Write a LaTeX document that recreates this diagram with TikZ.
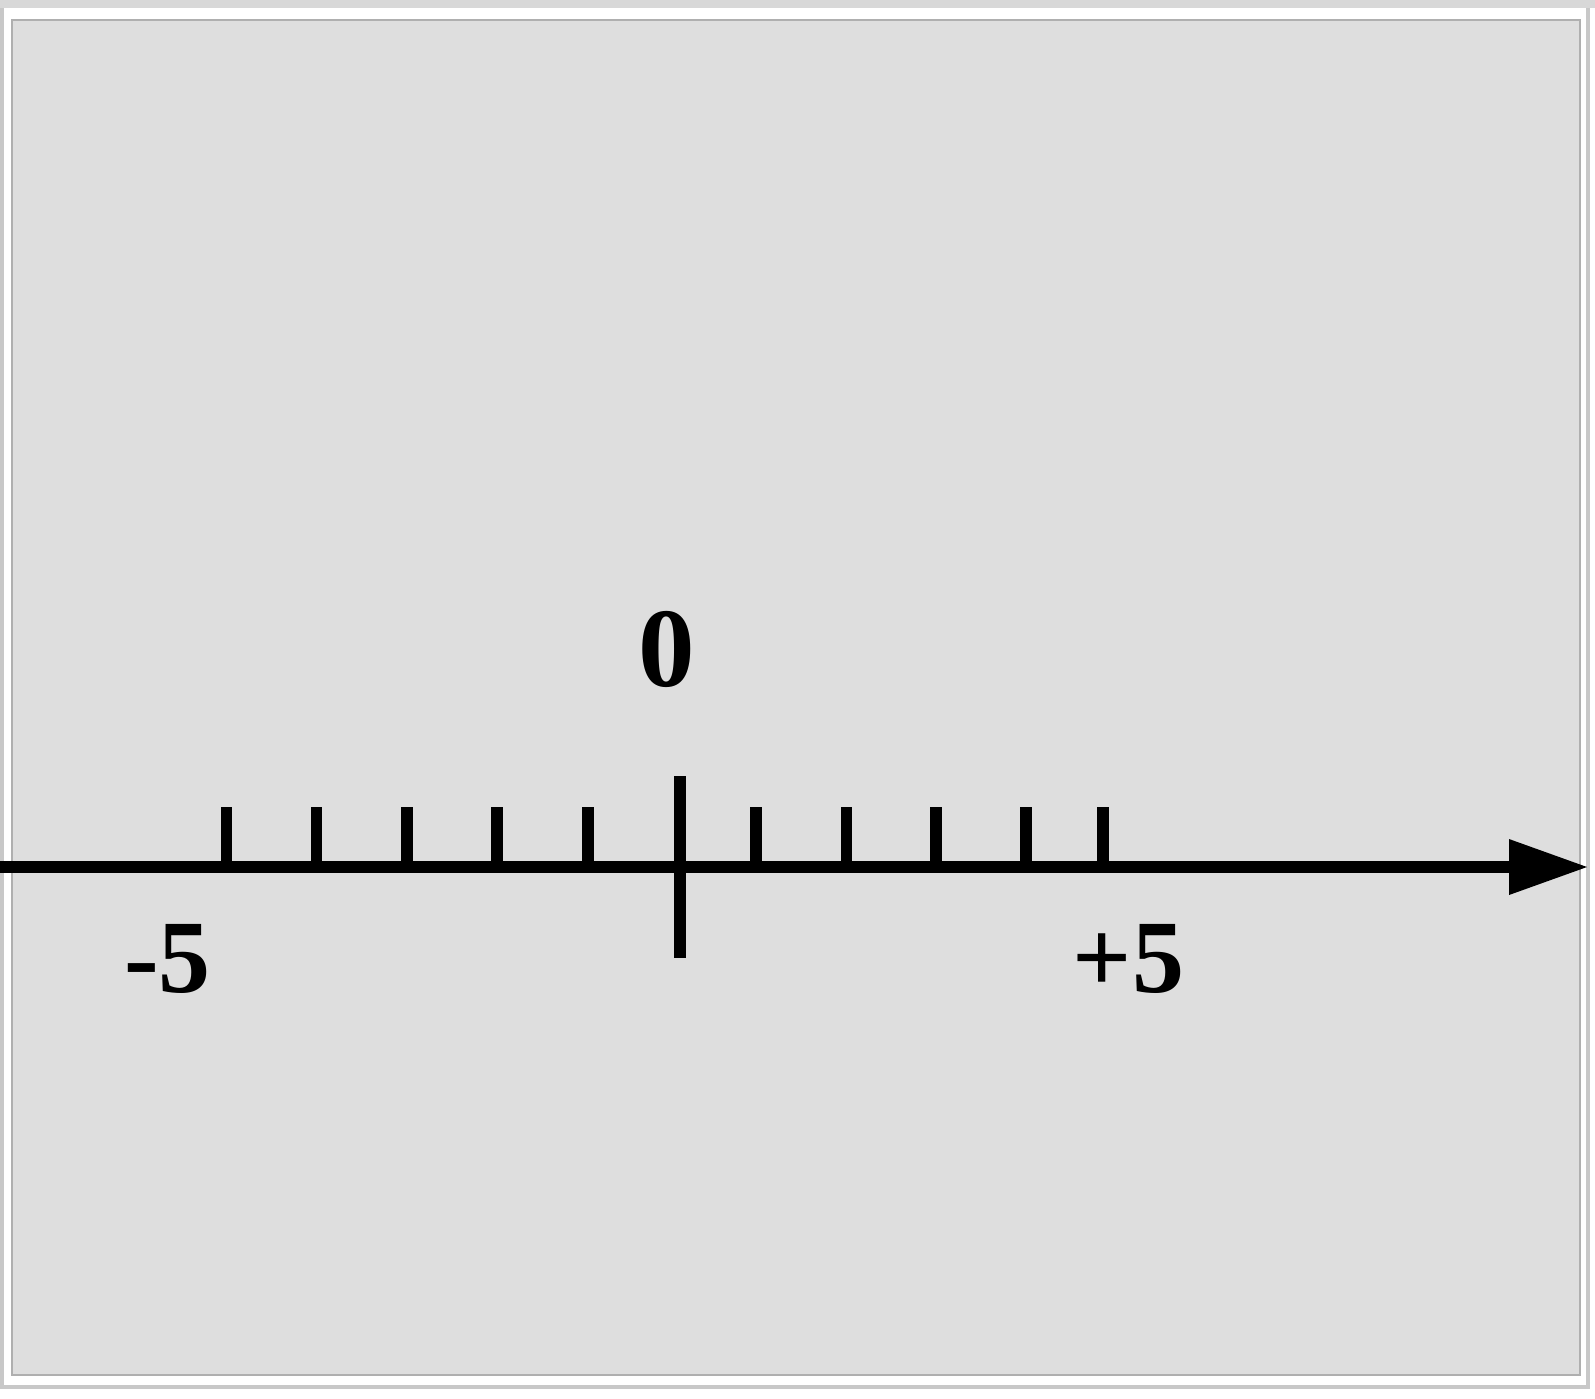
\documentclass[tikz,border=0pt]{standalone}
\usepackage{fontspec}
\setmainfont{Liberation Serif}
\definecolor{bggray}{RGB}{222,222,222}
\definecolor{edgegray}{RGB}{175,175,175}
\definecolor{framegray}{RGB}{200,200,200}
\tikzset{
  axisline/.style={line width=11.5pt, black},
  ticksmall/.style={line width=11.5pt, black},
  tickbig/.style={line width=12pt, black},
  numlabel/.style={inner sep=0pt, anchor=base, font=\bfseries\fontsize{104}{110}\selectfont},
  zerolabel/.style={inner sep=0pt, anchor=base, font=\bfseries\fontsize{113}{120}\selectfont}
}
\begin{document}
\begin{tikzpicture}[x=1pt,y=-1pt]
\useasboundingbox (0,0) rectangle (1595,1398);
\fill[white] (0,0) rectangle (1595,1398);
% outer frame
\draw[framegray, line width=4pt] (2,4) rectangle (1587.5,1386.5);
\fill[framegray!70!white] (0,0) rectangle (1595,8);
% inner textured panel
\fill[bggray] (12,20) rectangle (1580,1375);
\draw[edgegray, line width=2pt] (12,20) rectangle (1580,1375);
% axis
\coordinate (axisL) at (0,867);
\coordinate (axisR) at (1509,867);
\coordinate (tipT) at (1509,839);
\coordinate (tip) at (1587,867);
\coordinate (tipB) at (1509,895);
\draw[axisline] (axisL) -- (axisR);
\fill[black] (tipT) -- (tip) -- (tipB) -- cycle;
% small ticks
\foreach \x in {226.5,316.5,407,497,588,756,846.5,936,1026,1103}
  \draw[ticksmall] (\x,807) -- (\x,867);
% big tick at zero
\coordinate (zT) at (680,776);
\coordinate (zB) at (680,958);
\draw[tickbig] (zT) -- (zB);
% labels
\node[zerolabel] (lzero) at (666.7,686) {0};
\node[numlabel] (lminus) at (167.5,992) {-5};
\node[numlabel] (lplus) at (1128.5,992) {+5};
\end{tikzpicture}
\end{document}
